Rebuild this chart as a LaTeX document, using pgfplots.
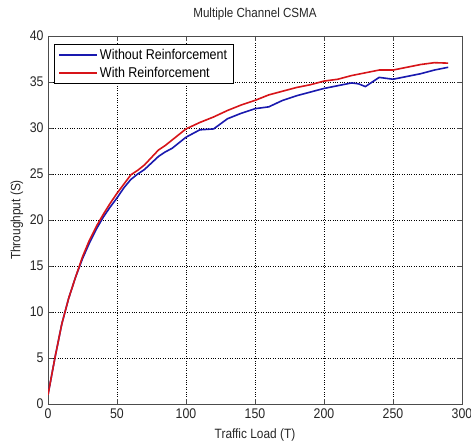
\documentclass[border=0pt]{standalone}
\usepackage{fontspec}
\setmainfont{Liberation Sans}[FakeStretch=0.88]
\usepackage{pgfplots}
\pgfplotsset{compat=1.18}
\definecolor{mblue}{RGB}{25,25,175}
\definecolor{mred}{RGB}{215,20,25}
\begin{document}
\begin{tikzpicture}
\begin{axis}[
  scale only axis,
  width=414bp, height=368bp,
  xmin=0, xmax=300, ymin=0, ymax=40,
  xtick={0,50,...,300}, ytick={0,5,...,40},
  /pgf/number format/assume math mode=true,
  font=\fontsize{13.5bp}{15bp}\selectfont,
  tick label style={font=\fontsize{14bp}{15bp}\selectfont, black!85},
  xticklabel style={yshift=-1bp},
  yticklabel style={xshift=-1bp},
  tick align=inside,
  major tick length=5bp,
  tick style={black!70, line width=0.6bp},
  axis line style={black!70, line width=0.8bp},
  grid=major,
  major grid style={black, dotted, line width=0.6bp},
  title={Multiple Channel CSMA},
  title style={at={(axis description cs:0.5,1)}, anchor=center, yshift=16bp, font=\fontsize{13.2bp}{15bp}\selectfont, black!85},
  xlabel={Traffic Load (T)},
  ylabel={Throughput (S)},
  every axis x label/.style={at={(axis description cs:0.5,0)}, anchor=center, yshift=-31bp, black!85},
  every axis y label/.style={at={(axis description cs:-0.075,0.5)}, anchor=center, rotate=90, black!85},
  legend cell align=left,
  legend style={at={(axis description cs:0,1)}, anchor=north west, xshift=6bp, yshift=-8bp,
    draw=black, line width=0.8bp, fill=white, inner xsep=4bp, inner ysep=2.5bp,
    font=\fontsize{14.2bp}{16bp}\selectfont, row sep=2.5bp},
  legend image code/.code={\draw[#1] (2bp,0bp) -- (40bp,0bp);},
]
\coordinate (sw) at (rel axis cs:0,0);
\coordinate (ne) at (rel axis cs:1,1);
\addplot[mblue, line width=1.6bp] coordinates {
(0,1.0) (5,5.0) (10,8.7) (15,11.5) (20,13.8) (25,15.8) (30,17.5) (35,19.0)
(40,20.3) (45,21.4) (50,22.4) (55,23.5) (60,24.4) (65,25.0) (70,25.5) (75,26.2)
(80,26.9) (85,27.4) (90,27.8) (95,28.4) (100,29.0) (105,29.4) (110,29.8) (120,29.9)
(130,31.0) (140,31.6) (150,32.1) (160,32.3) (170,33.0) (180,33.5) (190,33.9)
(200,34.3) (210,34.6) (220,34.9) (225,34.8) (230,34.5) (240,35.5) (250,35.3)
(260,35.6) (270,35.9) (280,36.3) (290,36.6)
};
\addlegendentry{Without Reinforcement}
\addplot[mred, line width=1.6bp] coordinates {
(0,1.0) (5,5.0) (10,8.7) (15,11.5) (20,13.8) (25,16.0) (30,17.8) (35,19.3)
(40,20.6) (45,21.8) (50,22.9) (55,23.9) (60,24.9) (65,25.4) (70,26.0) (75,26.8)
(80,27.6) (85,28.1) (90,28.7) (95,29.3) (100,29.9) (110,30.6) (120,31.2) (130,31.9)
(140,32.5) (150,33.0) (160,33.6) (170,34.0) (180,34.4) (190,34.7) (200,35.1)
(210,35.3) (220,35.7) (230,36.0) (240,36.3) (250,36.3) (260,36.6) (270,36.9)
(280,37.1) (290,37.05)
};
\addlegendentry{With Reinforcement}
\end{axis}
\pgfresetboundingbox
\path ([shift={(-48bp,-37bp)}]sw) rectangle ([shift={(9bp,36bp)}]ne);
\end{tikzpicture}
\end{document}
